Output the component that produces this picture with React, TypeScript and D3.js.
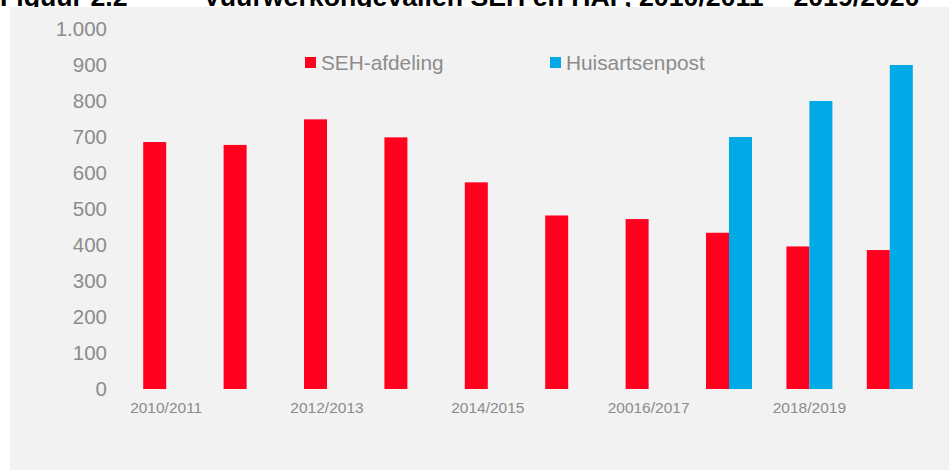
import * as d3 from "d3";

const seasons = [
  "2010/2011", "2011/2012", "2012/2013", "2013/2014", "2014/2015",
  "2015/2016", "20016/2017", "2017/2018", "2018/2019", "2019/2020",
];
const shownTicks = ["2010/2011", "2012/2013", "2014/2015", "20016/2017", "2018/2019"];
const sehValues = [686, 678, 749, 699, 574, 482, 472, 434, 396, 386];
const hapValues: (number | null)[] = [null, null, null, null, null, null, null, 700, 800, 900];
const seriesNames = ["SEH-afdeling", "Huisartsenpost"];
const seriesColors = ["#ff001f", "#00aae6"];
const yTicks = [0, 100, 200, 300, 400, 500, 600, 700, 800, 900, 1000];

const W = 949;
const H = 470;
const textGrey = "#8c8c8c";
const font = "'Liberation Sans', Arial, sans-serif";

export default function App() {
  const x0 = d3
    .scaleBand<string>()
    .domain(seasons)
    .range([126, 930])
    .paddingInner(0.428)
    .paddingOuter(0.214);
  const x1 = d3.scaleBand<string>().domain(seriesNames).range([0, x0.bandwidth()]);
  const y = d3.scaleLinear().domain([0, 1000]).range([389, 29]);
  const fmt = d3.formatLocale({ decimal: ",", thousands: ".", grouping: [3], currency: ["€", ""] }).format(",d");

  const rows = seasons.map((s, i) => ({ season: s, values: [sehValues[i], hapValues[i]] }));

  return (
    <div style={{ position: "absolute", left: 0, top: 0 }}>
      <svg width={W} height={H} style={{ display: "block", fontFamily: font }}>
        <rect x={0} y={0} width={W} height={H} fill="#ffffff" />
        {/* title is clipped by the panel, like in the source */}
        <text x={0} y={6} fontSize={26.7} fontWeight="bold" fill="#000">Figuur 2.2</text>
        <text x={203} y={6} fontSize={26.7} fontWeight="bold" fill="#000">
          Vuurwerkongevallen SEH en HAP, 2010/2011 – 2019/2020
        </text>
        <rect x={10} y={7} width={W - 10} height={H - 7} fill="#f2f2f2" />

        {yTicks.map((t) => (
          <text key={t} x={107} y={y(t)} dy="0.36em" textAnchor="end" fontSize={20.5} fill={textGrey}>
            {fmt(t)}
          </text>
        ))}

        {rows.map((r) => (
          <g key={r.season} transform={`translate(${x0(r.season)},0)`}>
            {r.values.map((v, j) =>
              v == null ? null : (
                <rect
                  key={j}
                  x={x1(seriesNames[j])}
                  y={y(v)}
                  width={x1.bandwidth()}
                  height={y(0) - y(v)}
                  fill={seriesColors[j]}
                />
              )
            )}
          </g>
        ))}

        {shownTicks.map((t) => (
          <text
            key={t}
            x={(x0(t) ?? 0) + x0.bandwidth() / 2}
            y={413}
            textAnchor="middle"
            fontSize={15.5}
            fill={textGrey}
          >
            {t}
          </text>
        ))}

        {seriesNames.map((n, i) => {
          const lx = [305, 550][i];
          return (
            <g key={n}>
              <rect x={lx} y={57} width={11} height={11} fill={seriesColors[i]} />
              <text x={lx + 16} y={70} fontSize={20.8} fill={textGrey}>{n}</text>
            </g>
          );
        })}
      </svg>
    </div>
  );
}
